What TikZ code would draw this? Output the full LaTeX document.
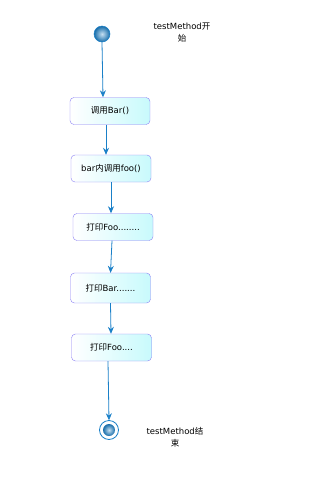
\documentclass[tikz,border=0pt]{standalone}
\usepackage{fontspec}
\setmainfont{DejaVu Sans}
\newfontfamily\cjk{Noto Sans CJK SC}
\usetikzlibrary{arrows.meta}
\definecolor{flow}{HTML}{1A80C8}
\definecolor{boxline}{HTML}{8A80F4}
\definecolor{boxfill}{HTML}{C8FAFC}
\tikzset{
  stepbox/.style={draw=boxline, rounded corners=4pt, left color=white, right color=boxfill,
    minimum width=80pt, minimum height=27pt, font=\fontsize{8.5}{10}\selectfont, inner sep=0pt},
  conn/.style={draw=flow, line width=0.8pt, -{Stealth[length=7pt,width=6pt]}},
  lbl/.style={font=\fontsize{8.5}{12}\selectfont, align=center},
  dot/.style={inner color=flow!25, outer color=flow!85!black},
}
\begin{document}
\begin{tikzpicture}[x=1pt,y=-1pt]
\useasboundingbox (0,0) rectangle (321,504);
\shade[dot] (102,34) circle (8);
\draw[flow, line width=0.5pt] (102,34) circle (8);
\node[circle, minimum size=16pt, inner sep=0pt] (start) at (102,34) {};
\node[lbl] (l1) at (182,33) {testMethod{\cjk 开}\\{\cjk 始}};
\node[stepbox] (b1) at (110,111) {{\cjk 调用}Bar()};
\node[stepbox] (b2) at (111,168.5) {bar{\cjk 内调用}foo()};
\node[stepbox] (b3) at (113,227) {{\cjk 打印}Foo........};
\node[stepbox, minimum height=30pt] (b4) at (110.5,288) {{\cjk 打印}Bar.......};
\node[stepbox] (b5) at (111.5,347.5) {{\cjk 打印}Foo....};
\draw[flow, line width=0.8pt, fill=white] (109,430) circle (9.5);
\shade[dot] (109,430) circle (6);
\node[circle, minimum size=19pt, inner sep=0pt] (end) at (109,430) {};
\node[lbl] (l2) at (175,437) {testMethod{\cjk 结}\\{\cjk 束}};
\draw[conn] (start.south) -- ([xshift=-7pt]b1.north);
\draw[conn] ([xshift=-4pt]b1.south) -- ([xshift=-5pt]b2.north);
\draw[conn] (b2.south) -- ([xshift=-2pt]b3.north);
\draw[conn] ([xshift=-1pt]b3.south) -- (b4.north);
\draw[conn] (b4.south) -- ([xshift=-0.5pt]b5.north);
\draw[conn] ([xshift=-3.5pt]b5.south) -- (end.north);
\end{tikzpicture}
\end{document}
